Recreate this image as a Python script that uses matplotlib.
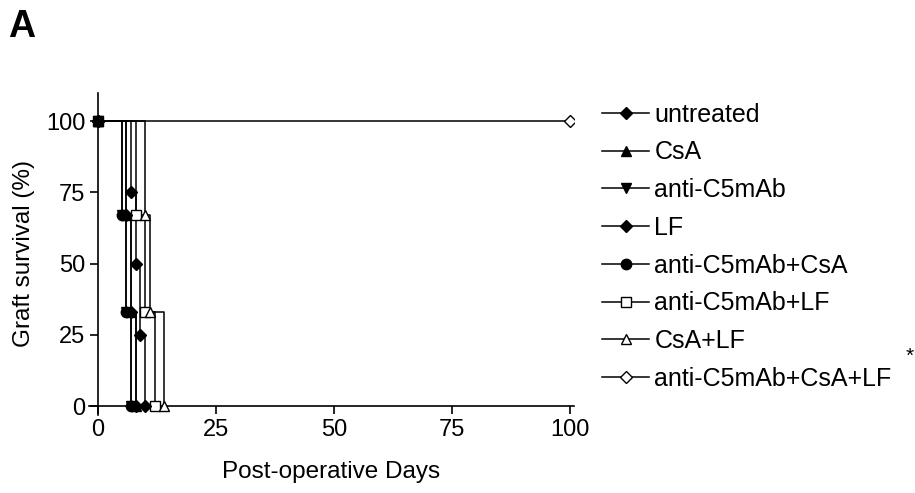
import matplotlib.pyplot as plt

plt.rcParams['font.family'] = ['Liberation Sans', 'DejaVu Sans']

# survival data (days, % surviving)
groups = ['untreated', 'CsA', 'anti-C5mAb', 'LF', 'anti-C5mAb+CsA',
          'anti-C5mAb+LF', 'CsA+LF', 'anti-C5mAb+CsA+LF']
days = [
    [0, 7, 8, 9, 10],
    [0, 6, 7, 8],
    [0, 5, 6, 7],
    [0, 6, 7, 8],
    [0, 5, 6, 7],
    [0, 8, 10, 12],
    [0, 10, 11, 14],
    [0, 100],
]
survival = [
    [100, 75, 50, 25, 0],
    [100, 67, 33, 0],
    [100, 67, 33, 0],
    [100, 67, 33, 0],
    [100, 67, 33, 0],
    [100, 67, 33, 0],
    [100, 67, 33, 0],
    [100, 100],
]
markers = ['D', '^', 'v', 'D', 'o', 's', '^', 'D']
filled = [True, True, True, True, True, False, False, False]
msizes = [6.5, 7.5, 7.5, 6.5, 7.5, 7.5, 7.5, 6.5]

fig = plt.figure(figsize=(9.15, 4.93), dpi=100)
ax = fig.add_axes([0.0968, 0.159, 0.531, 0.653])

for name, x, y, m, f, ms in zip(groups, days, survival, markers, filled, msizes):
    ax.step(x, y, where='post', color='black', lw=1.1, zorder=2)
    # filled markers on top of the open ones
    ax.plot(x, y, linestyle='none', marker=m, ms=ms, color='black',
            mfc='black' if f else 'white', mec='black', mew=1.0,
            zorder=4 if f else 3)
    # legend proxy
    ax.plot([], [], color='black', lw=1.1, marker=m, ms=ms,
            mfc='black' if f else 'white', mec='black', mew=1.0, label=name)

ax.set_xlim(-2, 101)
ax.set_ylim(-3, 110)
ax.spines['left'].set_position(('data', 0))
ax.spines['bottom'].set_position(('data', 0))
ax.spines['top'].set_visible(False)
ax.spines['right'].set_visible(False)
for s in ['left', 'bottom']:
    ax.spines[s].set_linewidth(1.2)
ax.set_xticks([0, 25, 50, 75, 100])
ax.set_yticks([0, 25, 50, 75, 100])
ax.tick_params(labelsize=17, width=1.2, length=6, pad=3)

ax.set_xlabel('Post-operative Days', fontsize=17.5)
ax.xaxis.set_label_coords(0.5, -0.145)
ax.set_ylabel('Graft survival (%)', fontsize=17.5)
ax.yaxis.set_label_coords(-0.11, 0.5)

ax.legend(loc='upper left', bbox_to_anchor=(1.036, 1.0), frameon=False,
          fontsize=18, handlelength=1.9, handletextpad=0.2,
          labelspacing=0.55, borderaxespad=0)
fig.text(0.99, 0.266, '*', fontsize=15)

fig.text(0.009, 0.925, 'A', fontsize=27, fontweight='bold')

fig.savefig('out.png', dpi=100)
